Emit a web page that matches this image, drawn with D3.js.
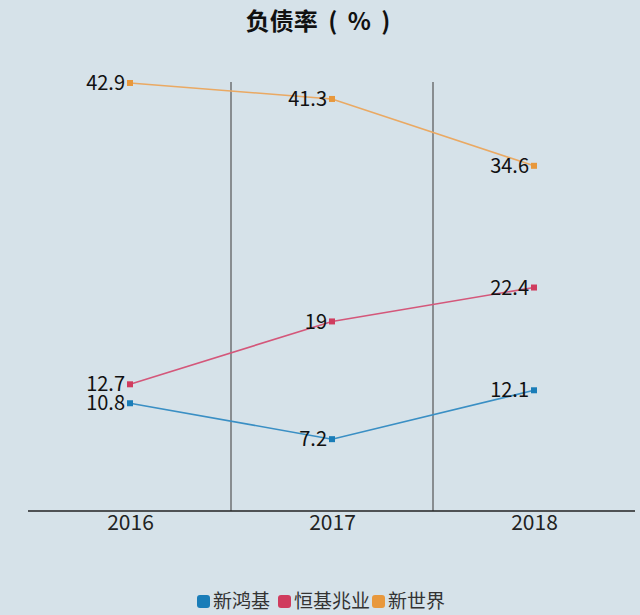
<!DOCTYPE html>
<meta charset="utf-8">
<head>
    <style>
        body { margin: 0; background: #d6e2e9; }
        .title {
            font-family: "Noto Sans CJK SC", sans-serif;
            font-size: 24px;
            font-weight: 700;
            text-anchor: middle;
            fill: #111;
            word-spacing: 5px;
        }
        .x-axis text {
            font-family: "Noto Sans CJK SC", sans-serif;
            font-size: 21px;
            fill: #222;
        }
        .val-label {
            font-family: "Noto Sans CJK SC", sans-serif;
            font-size: 20px;
            fill: #111;
            text-anchor: end;
        }
        .legend text {
            font-family: "Noto Sans CJK SC", sans-serif;
            font-size: 19px;
            fill: #333;
        }
    </style>
</head>

<script src="https://d3js.org/d3.v7.min.js"></script>

<div id="chart"></div>

<script>
    // data
    const years = ["2016", "2017", "2018"];
    const seriesNames = ["新鸿基", "恒基兆业", "新世界"];
    const shkp = [10.8, 7.2, 12.1];
    const hld = [12.7, 19, 22.4];
    const nwd = [42.9, 41.3, 34.6];
    const colors = ["#1a7db8", "#d03c5e", "#e8983c"];
    const lineColors = ["#3a8fc4", "#d4577a", "#eaa963"];

    const width = 640, height = 615;

    const svg = d3.select("#chart")
        .append("svg")
        .attr("width", width)
        .attr("height", height)
        .style("background", "#d6e2e9");

    const x = d3.scalePoint()
        .domain(years)
        .range([130, 534]);
    const step = x.step();

    const y = d3.scaleLinear()
        .domain([0, 43])
        .range([511, 82]);

    svg.append("text")
        .attr("class", "title")
        .attr("x", 318)
        .attr("y", 30)
        .text("负债率 ( % )");

    // vertical separators between categories
    svg.selectAll(".sep")
        .data(years.slice(1))
        .enter()
        .append("line")
        .attr("x1", d => x(d) - step / 2)
        .attr("x2", d => x(d) - step / 2)
        .attr("y1", y(0))
        .attr("y2", y(43))
        .attr("stroke", "#555")
        .attr("stroke-width", 1.2);

    // x axis
    svg.append("g")
        .attr("class", "x-axis")
        .attr("transform", "translate(0," + y(0) + ")")
        .call(d3.axisBottom(x).tickSize(0).tickPadding(4))
        .call(g => g.select(".domain").remove());

    svg.append("line")
        .attr("x1", 28)
        .attr("x2", x(years[2]) + step / 2)
        .attr("y1", y(0))
        .attr("y2", y(0))
        .attr("stroke", "#222")
        .attr("stroke-width", 1.5);

    const series = [shkp, hld, nwd];

    const line = d3.line()
        .x((d, i) => x(years[i]))
        .y(d => y(d));

    series.forEach(function (vals, s) {
        svg.append("path")
            .datum(vals)
            .attr("d", line)
            .attr("fill", "none")
            .attr("stroke", lineColors[s])
            .attr("stroke-width", 1.6);

        svg.selectAll(".pt" + s)
            .data(vals)
            .enter()
            .append("rect")
            .attr("x", (d, i) => x(years[i]) - 3)
            .attr("y", d => y(d) - 3)
            .attr("width", 6)
            .attr("height", 6)
            .attr("fill", colors[s]);

        svg.selectAll(".lbl" + s)
            .data(vals)
            .enter()
            .append("text")
            .attr("class", "val-label")
            .attr("x", (d, i) => x(years[i]) - 5)
            .attr("y", d => y(d))
            .attr("dy", "0.36em")
            .text(d => d);
    });

    // legend
    const legendX = [197, 278, 372];
    const legend = svg.append("g").attr("class", "legend");
    seriesNames.forEach(function (name, i) {
        legend.append("rect")
            .attr("x", legendX[i])
            .attr("y", 595)
            .attr("width", 13)
            .attr("height", 13)
            .attr("rx", 3)
            .attr("fill", colors[i]);
        legend.append("text")
            .attr("x", legendX[i] + 16)
            .attr("y", 601)
            .attr("dy", "0.36em")
            .text(name);
    });
</script>
